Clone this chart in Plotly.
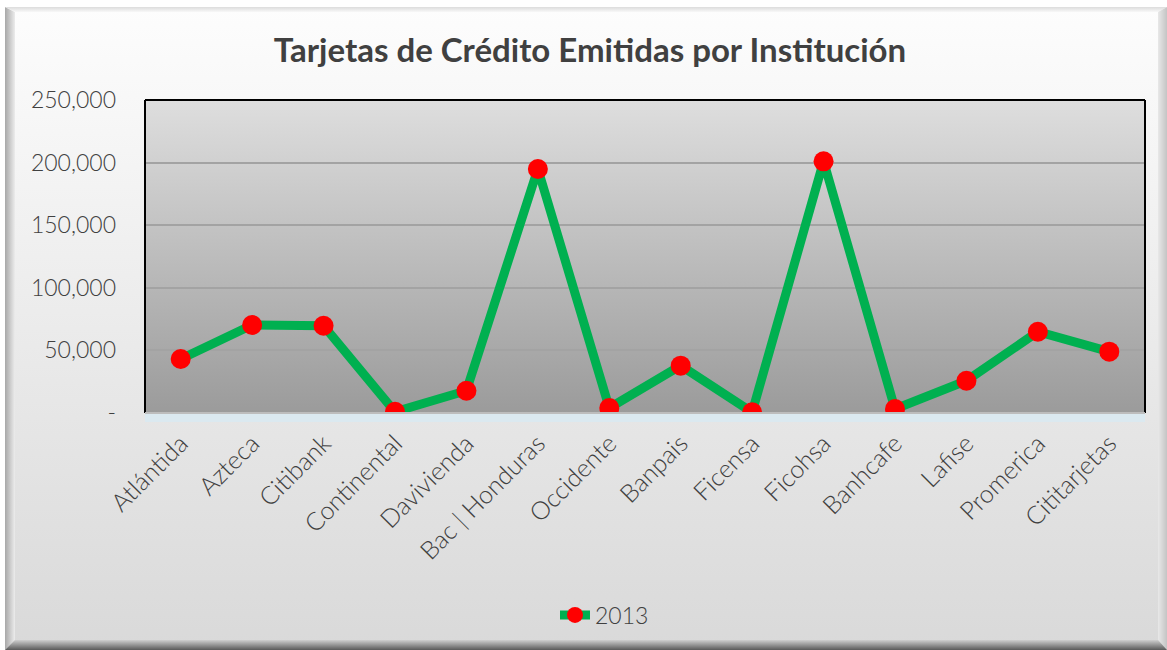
import base64
import plotly.graph_objects as go

categories = ["Atlántida", "Azteca", "Citibank", "Continental", "Davivienda",
              "Bac | Honduras", "Occidente", "Banpais", "Ficensa", "Ficohsa",
              "Banhcafe", "Lafise", "Promerica", "Cititarjetas"]
values_2013 = [43100, 70300, 69700, 1000, 17800, 194900, 4000, 37800, 600,
               201000, 3200, 25800, 64900, 49000]
series_name = "2013"
y_tickvals = [0, 50000, 100000, 150000, 200000, 250000]
y_ticktext = ["-", "50,000", "100,000", "150,000", "200,000", "250,000"]

W, H = 1167, 650
L, R, T, B = 145, 22, 100, 237
PW, PH = W - L - R, H - T - B

svg = f'''<svg xmlns="http://www.w3.org/2000/svg" width="{W}" height="{H}" viewBox="0 0 {W} {H}">
<defs>
<linearGradient id="frame" x1="0" y1="0" x2="0" y2="1">
<stop offset="0" stop-color="#fdfdfd"/><stop offset="1" stop-color="#d9d9d9"/></linearGradient>
<linearGradient id="plot" x1="0" y1="0" x2="0" y2="1">
<stop offset="0" stop-color="#dedede"/><stop offset="1" stop-color="#9b9b9b"/></linearGradient>
<linearGradient id="bl" x1="0" y1="0" x2="1" y2="0">
<stop offset="0" stop-color="#a8a8a8"/><stop offset="1" stop-color="#ececec"/></linearGradient>
<linearGradient id="br" x1="0" y1="0" x2="1" y2="0">
<stop offset="0" stop-color="#e8e8e8"/><stop offset="1" stop-color="#c4c4c4"/></linearGradient>
<linearGradient id="bt" x1="0" y1="0" x2="0" y2="1">
<stop offset="0" stop-color="#dcdcdc"/><stop offset="1" stop-color="#f8f8f8"/></linearGradient>
<linearGradient id="bb" x1="0" y1="0" x2="0" y2="1">
<stop offset="0" stop-color="#cfcfcf"/><stop offset="1" stop-color="#5a5a5a"/></linearGradient>
</defs>
<rect x="0" y="0" width="{W}" height="{H}" fill="#ffffff"/>
<rect x="5" y="7" width="{W-5}" height="{H-7}" fill="url(#frame)"/>
<polygon points="5,7 15,12 15,640 5,{H}" fill="url(#bl)"/>
<polygon points="5,7 {W},7 {W-9},12 15,12" fill="url(#bt)"/>
<polygon points="{W},7 {W},{H} {W-9},640 {W-9},12" fill="url(#br)"/>
<polygon points="5,{H} {W},{H} {W-9},640 15,640" fill="url(#bb)"/>
<rect x="{L}" y="{T}" width="{PW}" height="{PH}" fill="url(#plot)"/>
<rect x="{L}" y="{T+PH}" width="{PW}" height="9" fill="#dbe9f0"/>
</svg>'''
uri = "data:image/svg+xml;base64," + base64.b64encode(svg.encode()).decode()

fig = go.Figure()
fig.add_trace(go.Scatter(
    x=categories, y=values_2013, name=series_name, mode="lines+markers",
    line=dict(color="#00b050", width=9),
    marker=dict(color="#ff0000", size=20, line=dict(width=0)),
))

fig.add_layout_image(dict(
    source=uri, xref="paper", yref="paper",
    x=-L / PW, y=1 + T / PH, sizex=W / PW, sizey=H / PH,
    xanchor="left", yanchor="top", sizing="stretch", layer="below",
))

shape_lines = [
    (0, 0, 0, 1, "#000000"),
    (0, 1, 1, 1, "#000000"),
    (1, 0, 1, 1, "#000000"),
    (0, 0, 1, 0, "#bdbdbd"),
]
for x0, y0, x1, y1, c in shape_lines:
    fig.add_shape(type="line", xref="paper", yref="paper", x0=x0, y0=y0, x1=x1, y1=y1,
                  line=dict(color=c, width=2), layer="above")

font_family = "Lato, 'DejaVu Sans', sans-serif"
fig.update_layout(
    width=W, height=H,
    margin=dict(l=L, r=R, t=T, b=B),
    paper_bgcolor="rgba(0,0,0,0)",
    plot_bgcolor="rgba(0,0,0,0)",
    font=dict(family=font_family, color="#404040", size=22),
    title=dict(text="<b>Tarjetas de Crédito Emitidas por Institución</b>",
               x=(590) / W, xanchor="center", y=1 - 50 / H, yanchor="middle",
               font=dict(size=33, color="#404040", family=font_family)),
    showlegend=True,
    legend=dict(orientation="h", x=(555 - L) / PW, xanchor="left",
                y=(T + PH - 615) / PH, yanchor="middle",
                bgcolor="rgba(0,0,0,0)",
                font=dict(size=23, color="#404040", weight=300)),
    xaxis=dict(type="category", range=[-0.5, len(categories) - 0.5],
               showgrid=False, showline=False, zeroline=False,
               tickangle=-45, ticks="", ticklabelstandoff=10,
               tickfont=dict(size=25, color="#404040", weight=300)),
    yaxis=dict(range=[0, 250000], tickvals=y_tickvals, ticktext=y_ticktext,
               showgrid=True, gridcolor="#a3a3a3", gridwidth=1.5,
               zeroline=False, showline=False, ticks="",
               ticklabelstandoff=28, tickfont=dict(size=23, color="#404040", weight=300)),
)

fig.write_html("out.html", config={"displayModeBar": False},
               post_script="document.body.style.margin='0';document.body.style.overflow='hidden';")
